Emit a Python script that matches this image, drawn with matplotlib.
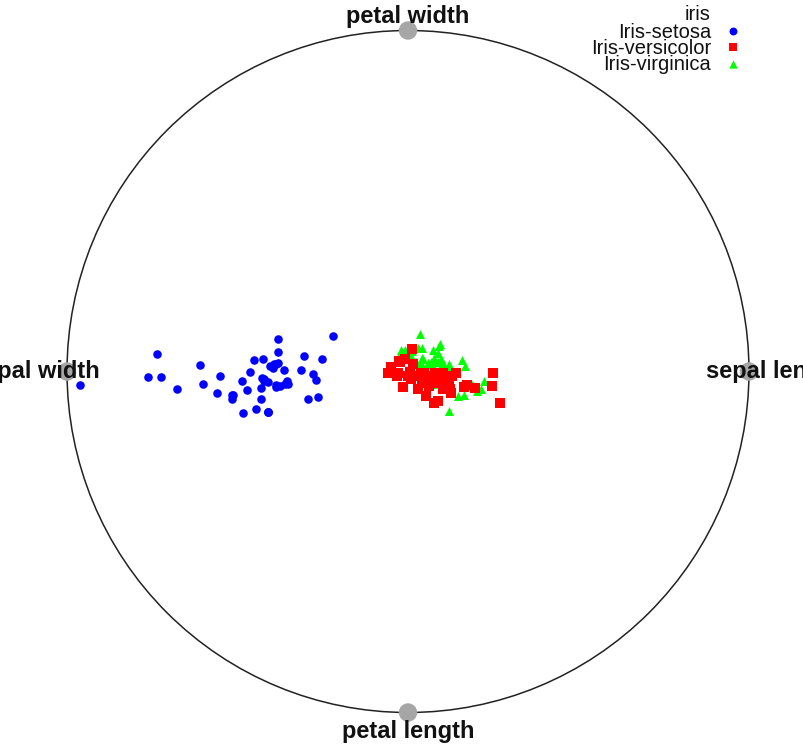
import numpy as np
import matplotlib
matplotlib.use("Agg")
import matplotlib.pyplot as plt
from matplotlib.patches import Circle

# Iris data (UCI iris.data)
sepal_length = [5.1,4.9,4.7,4.6,5.0,5.4,4.6,5.0,4.4,4.9,5.4,4.8,4.8,4.3,5.8,5.7,5.4,5.1,5.7,5.1,
                5.4,5.1,4.6,5.1,4.8,5.0,5.0,5.2,5.2,4.7,4.8,5.4,5.2,5.5,4.9,5.0,5.5,4.9,4.4,5.1,
                5.0,4.5,4.4,5.0,5.1,4.8,5.1,4.6,5.3,5.0,
                7.0,6.4,6.9,5.5,6.5,5.7,6.3,4.9,6.6,5.2,5.0,5.9,6.0,6.1,5.6,6.7,5.6,5.8,6.2,5.6,
                5.9,6.1,6.3,6.1,6.4,6.6,6.8,6.7,6.0,5.7,5.5,5.5,5.8,6.0,5.4,6.0,6.7,6.3,5.6,5.5,
                5.5,6.1,5.8,5.0,5.6,5.7,5.7,6.2,5.1,5.7,
                6.3,5.8,7.1,6.3,6.5,7.6,4.9,7.3,6.7,7.2,6.5,6.4,6.8,5.7,5.8,6.4,6.5,7.7,7.7,6.0,
                6.9,5.6,7.7,6.3,6.7,7.2,6.2,6.1,6.4,7.2,7.4,7.9,6.4,6.3,6.1,7.7,6.3,6.4,6.0,6.9,
                6.7,6.9,5.8,6.8,6.7,6.7,6.3,6.5,6.2,5.9]
sepal_width = [3.5,3.0,3.2,3.1,3.6,3.9,3.4,3.4,2.9,3.1,3.7,3.4,3.0,3.0,4.0,4.4,3.9,3.5,3.8,3.8,
               3.4,3.7,3.6,3.3,3.4,3.0,3.4,3.5,3.4,3.2,3.1,3.4,4.1,4.2,3.1,3.2,3.5,3.1,3.0,3.4,
               3.5,2.3,3.2,3.5,3.8,3.0,3.8,3.2,3.7,3.3,
               3.2,3.2,3.1,2.3,2.8,2.8,3.3,2.4,2.9,2.7,2.0,3.0,2.2,2.9,2.9,3.1,3.0,2.7,2.2,2.5,
               3.2,2.8,2.5,2.8,2.9,3.0,2.8,3.0,2.9,2.6,2.4,2.4,2.7,2.7,3.0,3.4,3.1,2.3,3.0,2.5,
               2.6,3.0,2.6,2.3,2.7,3.0,2.9,2.9,2.5,2.8,
               3.3,2.7,3.0,2.9,3.0,3.0,2.5,2.9,2.5,3.6,3.2,2.7,3.0,2.5,2.8,3.2,3.0,3.8,2.6,2.2,
               3.2,2.8,2.8,2.7,3.3,3.2,2.8,3.0,2.8,3.0,2.8,3.8,2.8,2.8,2.6,3.0,3.4,3.1,3.0,3.1,
               3.1,3.1,2.7,3.2,3.3,3.0,2.5,3.0,3.4,3.0]
petal_length = [1.4,1.4,1.3,1.5,1.4,1.7,1.4,1.5,1.4,1.5,1.5,1.6,1.4,1.1,1.2,1.5,1.3,1.4,1.7,1.5,
                1.7,1.5,1.0,1.7,1.9,1.6,1.6,1.5,1.4,1.6,1.6,1.5,1.5,1.4,1.5,1.2,1.3,1.5,1.3,1.5,
                1.3,1.3,1.3,1.6,1.9,1.4,1.6,1.4,1.5,1.4,
                4.7,4.5,4.9,4.0,4.6,4.5,4.7,3.3,4.6,3.9,3.5,4.2,4.0,4.7,3.6,4.4,4.5,4.1,4.5,3.9,
                4.8,4.0,4.9,4.7,4.3,4.4,4.8,5.0,4.5,3.5,3.8,3.7,3.9,5.1,4.5,4.5,4.7,4.4,4.1,4.0,
                4.4,4.6,4.0,3.3,4.2,4.2,4.2,4.3,3.0,4.1,
                6.0,5.1,5.9,5.6,5.8,6.6,4.5,6.3,5.8,6.1,5.1,5.3,5.5,5.0,5.1,5.3,5.5,6.7,6.9,5.0,
                5.7,4.9,6.7,4.9,5.7,6.0,4.8,4.9,5.6,5.8,6.1,6.4,5.6,5.1,5.6,6.1,5.6,5.5,4.8,5.4,
                5.6,5.1,5.1,5.9,5.7,5.2,5.0,5.2,5.4,5.1]
petal_width = [0.2,0.2,0.2,0.2,0.2,0.4,0.3,0.2,0.2,0.1,0.2,0.2,0.1,0.1,0.2,0.4,0.4,0.3,0.3,0.3,
               0.2,0.4,0.2,0.5,0.2,0.2,0.4,0.2,0.2,0.2,0.2,0.4,0.1,0.2,0.1,0.2,0.2,0.1,0.2,0.2,
               0.3,0.3,0.2,0.6,0.4,0.3,0.2,0.2,0.2,0.2,
               1.4,1.5,1.5,1.3,1.5,1.3,1.6,1.0,1.3,1.4,1.0,1.5,1.0,1.4,1.3,1.4,1.5,1.0,1.5,1.1,
               1.8,1.3,1.5,1.2,1.3,1.4,1.4,1.7,1.5,1.0,1.1,1.0,1.2,1.6,1.5,1.6,1.5,1.3,1.3,1.3,
               1.2,1.4,1.2,1.0,1.3,1.2,1.3,1.3,1.1,1.3,
               2.5,1.9,2.1,1.8,2.2,2.1,1.7,1.8,1.8,2.5,2.0,1.9,2.1,2.0,2.4,2.3,1.8,2.2,2.3,1.5,
               2.3,2.0,2.0,1.8,2.1,1.8,1.8,1.8,2.1,1.6,1.9,2.0,2.2,1.5,1.4,2.3,2.4,1.8,1.8,2.1,
               2.4,2.3,1.9,2.3,2.5,2.3,1.9,2.0,2.3,1.8]
species = ["Iris-setosa"] * 50 + ["Iris-versicolor"] * 50 + ["Iris-virginica"] * 50

classes = ["Iris-setosa", "Iris-versicolor", "Iris-virginica"]
features = ["sepal length", "petal width", "sepal width", "petal length"]
legend_title = "iris"

# ---- RadViz projection ----
cols = {"sepal length": sepal_length, "sepal width": sepal_width,
        "petal length": petal_length, "petal width": petal_width}
M = np.array([cols[f] for f in features], dtype=float).T
M = (M - M.min(axis=0)) / (M.max(axis=0) - M.min(axis=0))
n = len(features)
ang = 2 * np.pi * np.arange(n) / n
anchors = np.column_stack([np.cos(ang), np.sin(ang)])
s = M.sum(axis=1, keepdims=True)
proj = (M @ anchors) / s
species_arr = np.array(species)

W, H = 804, 746
fig = plt.figure(figsize=(W / 100, H / 100), dpi=100)
ax = fig.add_axes([0, 0, 1, 1])
cx, cy, R = 408, 371.5, 341
ax.set_xlim(-cx / R, (W - cx) / R)
ax.set_ylim(-(H - cy) / R, cy / R)
ax.axis("off")

ax.add_patch(Circle((0, 0), 1.0, fill=False, edgecolor="#222222", linewidth=1.1, zorder=1))
for (x, y) in anchors:
    ax.add_patch(Circle((x, y), 0.027, facecolor="#a6a6a6", edgecolor="none", zorder=2))

label_r = {"sepal length": 1.077, "petal width": 1.042, "sepal width": 1.092, "petal length": 1.056}
for f, (x, y) in zip(features, anchors):
    r = label_r[f]
    ax.text(x * r, y * r, f, ha="center", va="center", fontsize=17, fontweight="bold",
            family="Liberation Sans", color="#111111", zorder=5)

styles = {"Iris-setosa": dict(c="#0000ff", marker="o", s=38),
          "Iris-versicolor": dict(c="#ff0000", marker="s", s=44),
          "Iris-virginica": dict(c="#00ff00", marker="^", s=42)}
for cl in ["Iris-setosa", "Iris-virginica", "Iris-versicolor"]:
    m = species_arr == cl
    ax.scatter(proj[m, 0], proj[m, 1], linewidths=0, zorder=3, **styles[cl])

# legend (manual, right-aligned text with markers to the right)
tx, mx = 711 / W, 733 / W
rows = [15, 32, 48, 65]
ax.text(tx, 1 - rows[0] / H, legend_title, transform=ax.transAxes, ha="right", va="center",
        fontsize=14.5, family="Liberation Sans", color="#111111")
for cl, yy in zip(classes, rows[1:]):
    ax.text(tx, 1 - yy / H, cl, transform=ax.transAxes, ha="right", va="center",
            fontsize=14.5, family="Liberation Sans", color="#111111")
    st = styles[cl]
    ax.scatter([mx], [1 - (yy - 1) / H], transform=ax.transAxes, c=st["c"], marker=st["marker"],
               s=st["s"] * 0.85, linewidths=0, clip_on=False)

fig.savefig("out.png", dpi=100)
